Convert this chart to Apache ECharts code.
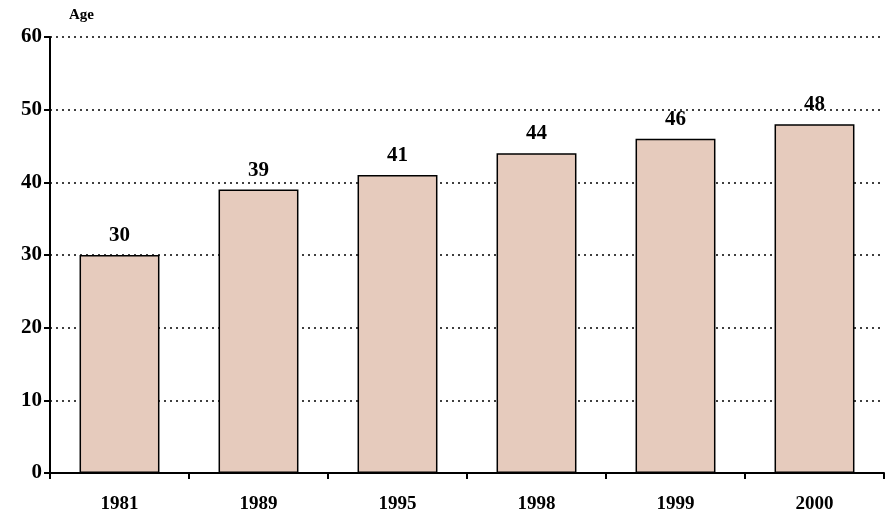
<!DOCTYPE html>
<html>
<head>
<meta charset="utf-8">
<script src="https://cdn.jsdelivr.net/npm/echarts@6/dist/echarts.min.js"></script>
<style>
  html, body { margin: 0; padding: 0; background: #fff; }
  #chart { width: 891px; height: 517px; }
</style>
</head>
<body>
<div id="chart"></div>
<script>
// data
const years = ['1981', '1989', '1995', '1998', '1999', '2000'];
const ages = [30, 39, 41, 44, 46, 48];
const yTicks = { min: 0, max: 60, interval: 10 };

const font = '"Liberation Serif", "Times New Roman", serif';

const chart = echarts.init(document.getElementById('chart'));
chart.setOption({
  animation: false,
  title: {
    text: 'Age',
    left: 64,
    top: 3,
    textStyle: { fontFamily: font, fontWeight: 'bold', fontSize: 15, color: '#000' }
  },
  grid: { left: 50, right: 7, top: 37, bottom: 44, containLabel: false },
  xAxis: {
    type: 'category',
    data: years,
    axisLine: { lineStyle: { color: '#000', width: 2 } },
    axisTick: { show: true, length: 6, lineStyle: { color: '#000', width: 2 } },
    axisLabel: { fontFamily: font, fontWeight: 'bold', fontSize: 19, color: '#000', margin: 22 }
  },
  yAxis: {
    type: 'value',
    min: yTicks.min,
    max: yTicks.max,
    interval: yTicks.interval,
    axisLine: { show: true, lineStyle: { color: '#000', width: 2 } },
    axisTick: { show: true, length: 6, lineStyle: { color: '#000', width: 2 } },
    axisLabel: { fontFamily: font, fontWeight: 'bold', fontSize: 21, color: '#000', margin: 8 },
    splitLine: { show: true, lineStyle: { color: '#000', type: [2, 4], width: 1.5 } }
  },
  series: [{
    type: 'bar',
    data: ages,
    barWidth: '57.5%',
    itemStyle: { color: '#E6CBBD', borderColor: '#000', borderWidth: 1.5 },
    label: {
      show: true,
      position: 'top',
      distance: 9,
      fontFamily: font,
      fontWeight: 'bold',
      fontSize: 21,
      color: '#000'
    }
  }]
});
</script>
</body>
</html>
